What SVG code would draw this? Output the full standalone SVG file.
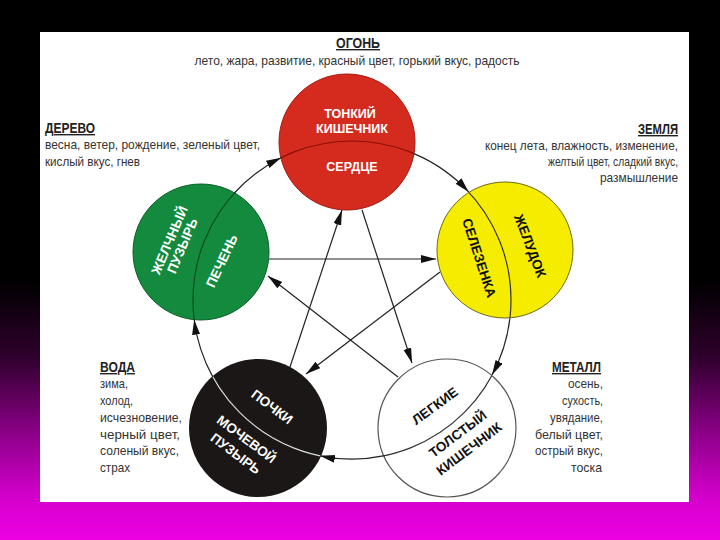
<svg xmlns="http://www.w3.org/2000/svg" width="720" height="540" viewBox="0 0 720 540">
<defs>
<linearGradient id="bg" x1="0" y1="0" x2="0" y2="1">
<stop offset="0" stop-color="#000"/>
<stop offset="0.52" stop-color="#000"/>
<stop offset="0.66" stop-color="#2e002c"/>
<stop offset="0.8" stop-color="#8a0086"/>
<stop offset="0.92" stop-color="#d400cc"/>
<stop offset="1" stop-color="#ee00e2"/>
</linearGradient>
<marker id="ah" markerUnits="userSpaceOnUse" markerWidth="16" markerHeight="10" refX="15" refY="4" orient="auto">
<path d="M0,0 L15,4 L0,8 z" fill="#111"/>
</marker>
<clipPath id="cFire"><circle cx="347" cy="142" r="68"/></clipPath>
<clipPath id="cWood"><circle cx="201" cy="252" r="68"/></clipPath>
<clipPath id="cEarth"><circle cx="505" cy="250" r="68"/></clipPath>
<clipPath id="cWater"><circle cx="258" cy="428" r="69"/></clipPath>
<clipPath id="cMetal"><circle cx="447" cy="428" r="69"/></clipPath>
<style>
text{font-family:"Liberation Sans",Arial,sans-serif}
.h{font-size:14px;font-weight:bold;text-decoration:underline;fill:#222}
.t{font-size:13.5px;fill:#333}
.n{font-size:13.5px;font-weight:bold;text-anchor:middle}
.r{font-size:12.5px}
.w{fill:#fff}
.k{fill:#111}
.c{fill:none;stroke:#222;stroke-width:1.2;marker-end:url(#ah)}
.d{fill:none;stroke-width:1.2}
</style>
</defs>
<rect x="0" y="0" width="720" height="540" fill="url(#bg)"/>
<rect x="40" y="32" width="649" height="470" fill="#fff"/>

<g id="labels">
<text class="h" x="358" y="48" text-anchor="middle" textLength="44" lengthAdjust="spacingAndGlyphs">ОГОНЬ</text>
<text class="t" x="357" y="65" text-anchor="middle" textLength="325" lengthAdjust="spacingAndGlyphs">лето, жара, развитие, красный цвет, горький вкус, радость</text>
<text class="h" x="45" y="133" textLength="50" lengthAdjust="spacingAndGlyphs">ДЕРЕВО</text>
<text class="t" x="45" y="149" textLength="215" lengthAdjust="spacingAndGlyphs">весна, ветер, рождение, зеленый цвет,</text>
<text class="t" x="45" y="166" textLength="95" lengthAdjust="spacingAndGlyphs">кислый вкус, гнев</text>
<text class="h" x="678" y="134" text-anchor="end" textLength="40" lengthAdjust="spacingAndGlyphs">ЗЕМЛЯ</text>
<text class="t" x="678" y="150" text-anchor="end" textLength="193" lengthAdjust="spacingAndGlyphs">конец лета, влажность, изменение,</text>
<text class="t" x="678" y="166" text-anchor="end" textLength="130" lengthAdjust="spacingAndGlyphs">желтый цвет, сладкий вкус,</text>
<text class="t" x="678" y="182" text-anchor="end" textLength="78" lengthAdjust="spacingAndGlyphs">размышление</text>
<text class="h" x="100" y="372" textLength="35" lengthAdjust="spacingAndGlyphs">ВОДА</text>
<text class="t" x="100" y="388" textLength="28" lengthAdjust="spacingAndGlyphs">зима,</text>
<text class="t" x="100" y="405" textLength="33" lengthAdjust="spacingAndGlyphs">холод,</text>
<text class="t" x="100" y="422" textLength="82" lengthAdjust="spacingAndGlyphs">исчезновение,</text>
<text class="t" x="100" y="439" textLength="80" lengthAdjust="spacingAndGlyphs">черный цвет,</text>
<text class="t" x="100" y="455" textLength="79" lengthAdjust="spacingAndGlyphs">соленый вкус,</text>
<text class="t" x="100" y="472" textLength="30" lengthAdjust="spacingAndGlyphs">страх</text>
<text class="h" x="601" y="372" text-anchor="end" textLength="49" lengthAdjust="spacingAndGlyphs">МЕТАЛЛ</text>
<text class="t" x="603" y="388" text-anchor="end" textLength="35" lengthAdjust="spacingAndGlyphs">осень,</text>
<text class="t" x="603" y="405" text-anchor="end" textLength="41" lengthAdjust="spacingAndGlyphs">сухость,</text>
<text class="t" x="603" y="422" text-anchor="end" textLength="53" lengthAdjust="spacingAndGlyphs">увядание,</text>
<text class="t" x="603" y="439" text-anchor="end" textLength="68" lengthAdjust="spacingAndGlyphs">белый цвет,</text>
<text class="t" x="603" y="455" text-anchor="end" textLength="68" lengthAdjust="spacingAndGlyphs">острый вкус,</text>
<text class="t" x="602" y="472" text-anchor="end" textLength="31" lengthAdjust="spacingAndGlyphs">тоска</text>
</g>

<g id="fire">
<circle cx="347" cy="142" r="68" fill="#d52b1e" stroke="#a31810" stroke-width="1"/>
<circle cx="352" cy="300" r="159" class="d" stroke="#8c1008" clip-path="url(#cFire)"/>
<text class="n r w" x="350" y="118">ТОНКИЙ</text>
<text class="n r w" x="352" y="133">КИШЕЧНИК</text>
<text class="n r w" x="352" y="171">СЕРДЦЕ</text>
</g>

<g id="wood">
<circle cx="201" cy="252" r="68" fill="#138a3d" stroke="#0b5e26" stroke-width="1"/>
<circle cx="352" cy="300" r="159" class="d" stroke="#0a4d1e" clip-path="url(#cWood)"/>
<g transform="translate(176,243) rotate(-67)">
<text class="n w" x="0" y="-2.5">ЖЕЛЧНЫЙ</text>
<text class="n w" x="0" y="11.5">ПУЗЫРЬ</text>
</g>
<text class="n w" transform="translate(222,261) rotate(-65)" x="0" y="4.5">ПЕЧЕНЬ</text>
</g>

<g id="earth">
<circle cx="505" cy="250" r="68" fill="#f6ec00" stroke="#6e6a10" stroke-width="1"/>
<circle cx="352" cy="300" r="159" class="d" stroke="#333" clip-path="url(#cEarth)"/>
<text class="n k" transform="translate(479,258) rotate(72)" x="0" y="4.5">СЕЛЕЗЕНКА</text>
<text class="n k" transform="translate(530,246) rotate(69)" x="0" y="4.5">ЖЕЛУДОК</text>
</g>

<g id="water">
<circle cx="258" cy="428" r="69" fill="#1b1716"/>
<circle cx="352" cy="300" r="159" class="d" stroke="#d8d8d8" clip-path="url(#cWater)"/>
<text class="n w" transform="translate(272,407) rotate(37)" x="0" y="4.5">ПОЧКИ</text>
<g transform="translate(241,446.5) rotate(37)">
<text class="n w" x="0" y="-4.5">МОЧЕВОЙ</text>
<text class="n w" x="0" y="13.5">ПУЗЫРЬ</text>
</g>
</g>

<g id="metal">
<circle cx="447" cy="428" r="69" fill="#fff" stroke="#555" stroke-width="1.2"/>
<circle cx="352" cy="300" r="159" class="d" stroke="#333" clip-path="url(#cMetal)"/>
<text class="n k" transform="translate(435,406) rotate(-36)" x="0" y="4.5">ЛЕГКИЕ</text>
<g transform="translate(463.5,441.5) rotate(-37)">
<text class="n k" x="0" y="-4.8">ТОЛСТЫЙ</text>
<text class="n k" x="0" y="13.8">КИШЕЧНИК</text>
</g>
</g>

<g id="connectors">
<path class="c" d="M413.9,153.6 A159,159 0 0 1 468.7,191.9"/>
<path class="c" d="M509.9,318.3 A159,159 0 0 1 492,375"/>
<path class="c" d="M384.8,455.6 A159,159 0 0 1 320,455.8"/>
<path class="c" d="M212.9,377.1 A159,159 0 0 1 194.2,319.7"/>
<path class="c" d="M234.4,193 A159,159 0 0 1 281.1,157.7"/>
<path class="c" d="M362,210 L412,363"/>
<path class="c" d="M398,377 L268,276"/>
<path class="c" d="M269,259 L436,259"/>
<path class="c" d="M440,272 L306,374"/>
<path class="c" d="M290,367 L342,210"/>
</g>
</svg>
